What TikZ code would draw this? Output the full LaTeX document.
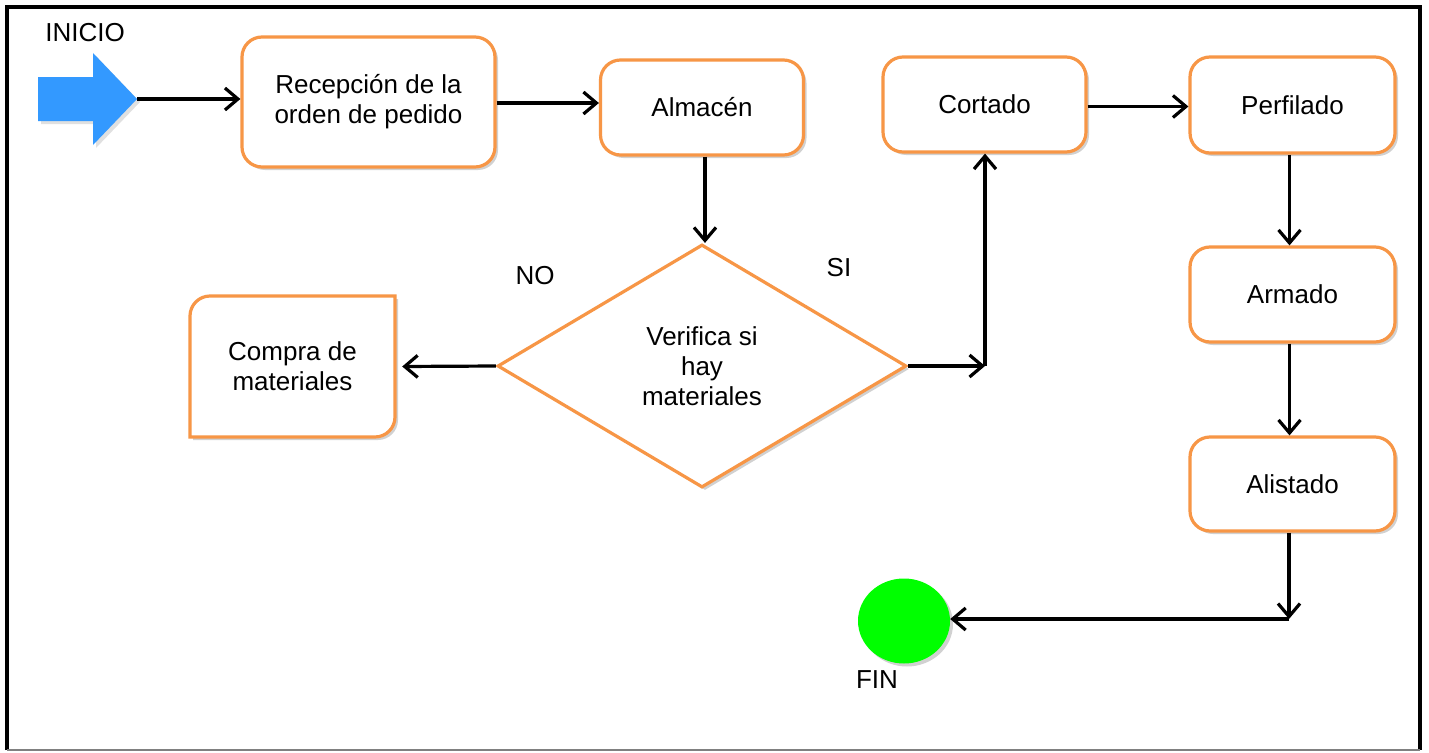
\documentclass[tikz,border=0pt]{standalone}
\usepackage{fontspec}
\setmainfont{Liberation Sans}
\usetikzlibrary{arrows.meta,shapes.geometric,shadows}
\definecolor{boxorange}{HTML}{F79646}
\definecolor{startblue}{HTML}{3399FF}
\definecolor{fingreen}{HTML}{00FF00}
\begin{document}
\begin{tikzpicture}[x=1pt,y=-1pt,
  every node/.style={font=\fontsize{26}{30}\selectfont, align=center},
  shad/.style={drop shadow={shadow xshift=3pt,shadow yshift=-3pt,opacity=0.18,fill=black}},
  procbox/.style={draw=boxorange, line width=3.2pt, rounded corners=20pt, fill=white, shad, inner sep=0pt},
  conn/.style={line width=3.2pt, -{Straight Barb[length=13pt,width=22pt]}}]
\useasboundingbox (0,0) rectangle (1429,752);
\fill[white] (0,0) rectangle (1429,752);
% frame
\draw[line width=4pt] (7,750) -- (7,7) -- (1420,7) -- (1420,750);
\draw[gray, line width=1.5pt] (7,750) -- (1420,750);

% start arrow
\fill[startblue, drop shadow={shadow xshift=3pt,shadow yshift=-3pt,opacity=0.12,fill=black}]
  (38,77) -- (93,77) -- (93,53) -- (137,99) -- (93,145) -- (93,121) -- (38,121) -- cycle;
\coordinate (start) at (137,99);
\node (inicio) at (85,33) {INICIO};

% process boxes
\node[procbox, minimum width=253pt, minimum height=130pt] (recep) at (368.5,102) {Recepción de la\\orden de pedido};
\node[procbox, minimum width=203pt, minimum height=95pt] (almacen) at (702,107.5) {Almacén};
\node[procbox, minimum width=203pt, minimum height=95pt] (cortado) at (984.5,104.5) {Cortado};
\node[procbox, minimum width=205pt, minimum height=96pt] (perf) at (1292.5,105) {Perfilado};
\node[procbox, minimum width=205pt, minimum height=95pt] (armado) at (1292.5,294.5) {Armado};
\node[procbox, minimum width=205pt, minimum height=94pt] (alistado) at (1292.5,484) {Alistado};

% decision
\node[diamond, draw=boxorange, line width=3.2pt, fill=white, shad, inner sep=0pt,
      aspect=1.68, minimum width=409pt, minimum height=243pt] (dec) at (702,366) {Verifica si\\hay\\materiales};
\node (no) at (535,276) {NO};
\node (si) at (839,268) {SI};

% purchase box (two rounded corners)
\draw[draw=boxorange, line width=3.2pt, fill=white, shad]
  (190,437) -- (190,316) .. controls (190,305) and (199,296) .. (210,296)
  -- (395,296) -- (395,417) .. controls (395,428) and (386,437) .. (375,437) -- cycle;
\node[minimum width=205pt, minimum height=141pt, inner sep=0pt] (compra) at (292.5,366.5) {Compra de\\materiales};

% end
\node[ellipse, fill=fingreen, shad, minimum width=92pt, minimum height=85pt, inner sep=0pt] (fin) at (904,621) {};
\node (finlbl) at (877,680) {FIN};

% connectors
\draw[conn] (start) -- (start -| recep.west);
\draw[conn] ([yshift=-1pt]recep.east) -- ([yshift=-1pt]recep.east -| almacen.west);
\draw[conn] ([xshift=3pt]almacen.south) -- ([xshift=3pt]almacen.south |- dec.north);
\draw[conn] (dec.west) -- ([xshift=7pt]compra.east);
\coordinate (siturn) at (985,366);
\draw[conn] (dec.east) -- (siturn);
\draw[conn] (siturn) -- (siturn |- cortado.south);
\draw[conn] ([yshift=-2pt]cortado.east) -- ([yshift=-2pt]cortado.east -| perf.west);
\draw[conn] ([xshift=-3pt]perf.south) -- ([xshift=-3pt]armado.north);
\draw[conn] ([xshift=-3pt]armado.south) -- ([xshift=-3pt]alistado.north);
\coordinate (finturn) at (1289,619);
\draw[conn] (alistado.south -| finturn) -- (finturn);
\draw[conn] (finturn) -- (finturn -| fin.east);
\end{tikzpicture}
\end{document}
